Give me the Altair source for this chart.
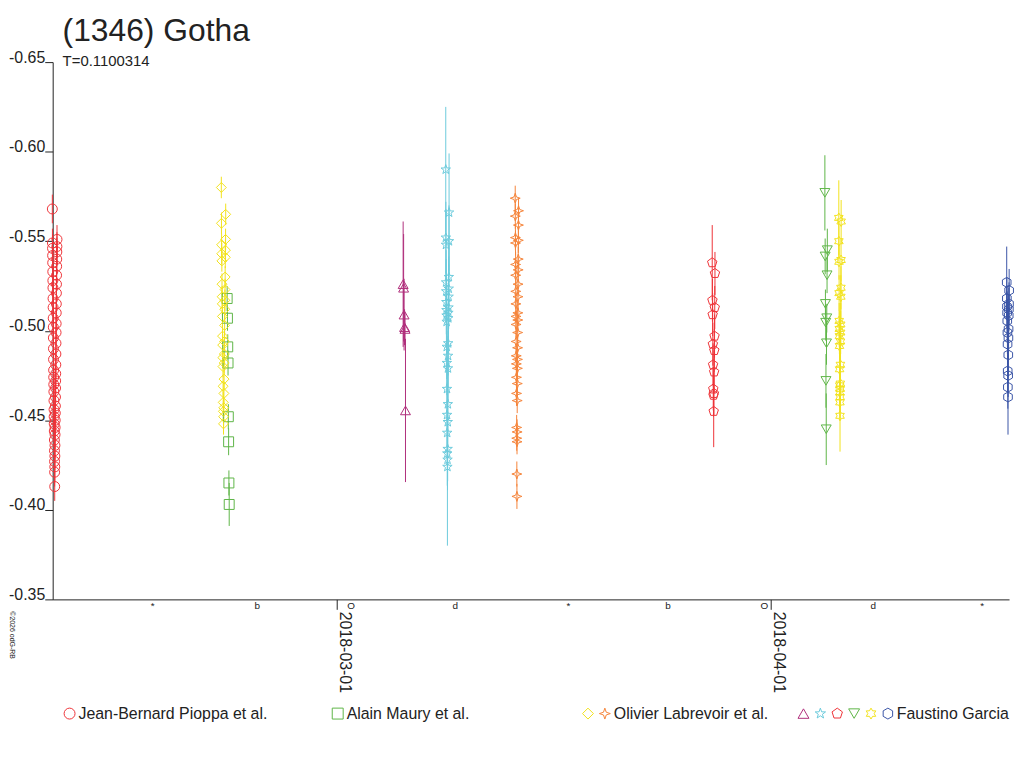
import altair as alt
import pandas as pd

# series keys (one per marker style), legend text and styles
series = ["JBP", "AM", "OL1", "OL2", "FG1", "FG2", "FG3", "FG4", "FG5", "FG6"]
nbsp = "\u00a0"
zw = "\u200b"
label_jbp = nbsp + "Jean-Bernard Pioppa et al." + nbsp * 14 + zw
label_am = nbsp + "Alain Maury et al." + nbsp * 25 + zw
label_ol = nbsp + "Olivier Labrevoir et al." + nbsp * 6 + zw
label_fg = nbsp + "Faustino Garcia"
colors = ["#ee3338", "#5fb548", "#f2e21c", "#f5843a", "#b02f7c",
          "#6ccbdc", "#ee3338", "#5fb548", "#f2e21c", "#3a55a6"]
star4 = "M0,-1L0.25,-0.25L1,0L0.25,0.25L0,1L-0.25,0.25L-1,0L-0.25,-0.25Z"
star5 = ("M0,-1L0.235,-0.324L0.951,-0.309L0.38,0.124L0.588,0.809L0,0.4"
         "L-0.588,0.809L-0.38,0.124L-0.951,-0.309L-0.235,-0.324Z")
pentagon = "M0,-1L0.951,-0.309L0.588,0.809L-0.588,0.809L-0.951,-0.309Z"
hexagram = ("M0,-1L0.289,-0.5L0.866,-0.5L0.577,0L0.866,0.5L0.289,0.5L0,1"
            "L-0.289,0.5L-0.866,0.5L-0.577,0L-0.866,-0.5L-0.289,-0.5Z")
hexagon = "M0,-1L0.866,-0.5L0.866,0.5L0,1L-0.866,0.5L-0.866,-0.5Z"
shapes = ["circle", "square", "diamond", star4, "triangle-up",
          star5, pentagon, "triangle-down", hexagram, hexagon]

# observing nights (start, end) and reduced magnitudes in time order
jbp_night = ["2018-02-08T17:00", "2018-02-09T01:00"]
jbp_mag = [-0.568, -0.549, -0.546, -0.542, -0.538, -0.533, -0.528, -0.524, -0.518, -0.513,
           -0.507, -0.502, -0.496, -0.490, -0.484, -0.478, -0.474, -0.470, -0.466, -0.461,
           -0.456, -0.452, -0.448, -0.444, -0.439, -0.433, -0.427, -0.421,
           -0.413, -0.424, -0.430, -0.436, -0.442, -0.446, -0.450, -0.454, -0.458, -0.463,
           -0.468, -0.472, -0.476, -0.481, -0.487, -0.493, -0.499, -0.504, -0.510, -0.515,
           -0.521, -0.526, -0.531, -0.536, -0.540, -0.544, -0.547, -0.551]
jbp_err = 0.008

am_night = ["2018-02-21T04:30", "2018-02-21T08:00"]
am_mag = [-0.518, -0.507, -0.491, -0.482, -0.452, -0.438, -0.415, -0.403]
am_err = [0.007, 0.007, 0.007, 0.007, 0.007, 0.0075, 0.007, 0.012]

ol1_night = ["2018-02-20T18:30", "2018-02-21T02:00"]
ol1_mag = [-0.580, -0.560, -0.548, -0.543, -0.539, -0.526, -0.519, -0.515, -0.508, -0.497,
           -0.492, -0.485, -0.480, -0.469, -0.460, -0.455, -0.448,
           -0.452, -0.457, -0.465, -0.473, -0.482, -0.487, -0.494, -0.503, -0.512,
           -0.517, -0.523, -0.530, -0.541, -0.545, -0.551, -0.565]
ol1_err = 0.006

ol2_night = ["2018-03-13T18:00", "2018-03-13T23:40"]
ol2_mag = [-0.574, -0.564, -0.552, -0.549, -0.537, -0.531, -0.522, -0.515, -0.508, -0.5035,
           -0.494, -0.486, -0.4815, -0.474, -0.465, -0.446, -0.440, -0.420,
           -0.4075, -0.438, -0.4435, -0.461, -0.4705, -0.479, -0.484, -0.4905, -0.499,
           -0.506, -0.510, -0.519, -0.526, -0.534, -0.540, -0.5505, -0.559, -0.567]
ol2_err = 0.007

fg1_night = ["2018-03-05T18:00", "2018-03-05T22:00"]
fg1_mag = [-0.526, -0.524, -0.509, -0.502, -0.501, -0.4555]
fg1_err = [0.035, 0.03, 0.02, 0.01, 0.009, 0.04]

fg2_night = ["2018-03-08T19:00", "2018-03-09T00:40"]
fg2_mag = [-0.590, -0.552, -0.548, -0.527, -0.522, -0.516, -0.5115, -0.5085, -0.505, -0.491,
           -0.482, -0.4675, -0.453, -0.443, -0.4315, -0.424,
           -0.428, -0.434, -0.449, -0.459, -0.479, -0.486, -0.493, -0.507, -0.510,
           -0.513, -0.519, -0.5235, -0.530, -0.550, -0.566]
fg2_err = [0.035, 0.02, 0.02, 0.018, 0.018, 0.018, 0.018, 0.018, 0.018, 0.018,
           0.018, 0.018, 0.018, 0.018, 0.018, 0.044,
           0.017, 0.018, 0.018, 0.018, 0.018, 0.018, 0.018, 0.018, 0.018,
           0.018, 0.018, 0.018, 0.018, 0.02, 0.033]

fg3_night = ["2018-03-27T19:30", "2018-03-28T00:10"]
fg3_mag = [-0.538, -0.517, -0.509, -0.4925, -0.481, -0.4675, -0.464,
           -0.455, -0.465, -0.477, -0.489, -0.497, -0.513, -0.532]
fg3_err = [0.021, 0.012, 0.012, 0.012, 0.012, 0.012, 0.012,
           0.02, 0.012, 0.012, 0.012, 0.012, 0.012, 0.012]

fg4_night = ["2018-04-04T20:30", "2018-04-05T00:40"]
fg4_mag = [-0.577, -0.5415, -0.515, -0.5045, -0.472, -0.445, -0.493, -0.507, -0.531, -0.545]
fg4_err = [0.021, 0.01, 0.008, 0.01, 0.015, 0.02, 0.012, 0.008, 0.01, 0.012]

fg5_night = ["2018-04-05T20:20", "2018-04-06T00:20"]
fg5_mag = [-0.563, -0.550, -0.5385, -0.521, -0.5055, -0.501, -0.497, -0.4915, -0.4785,
           -0.4695, -0.4655, -0.460,
           -0.4525, -0.463, -0.4675, -0.4705, -0.481, -0.494, -0.499, -0.5035, -0.519,
           -0.524, -0.5395, -0.561]
fg5_err = [0.021, 0.01, 0.01, 0.01, 0.01, 0.01, 0.01, 0.01, 0.01, 0.01, 0.01, 0.01,
           0.02, 0.012, 0.012, 0.012, 0.012, 0.012, 0.012, 0.012, 0.012, 0.012, 0.012, 0.012]

fg6_night = ["2018-04-17T20:00", "2018-04-18T00:10"]
fg6_mag = [-0.527, -0.518, -0.5135, -0.510, -0.5055, -0.499, -0.4925, -0.4775, -0.4685,
           -0.463, -0.475, -0.4865, -0.496, -0.501, -0.5085, -0.512, -0.515, -0.5225]
fg6_err = [0.02, 0.012, 0.012, 0.012, 0.012, 0.012, 0.012, 0.012, 0.012,
           0.021, 0.012, 0.012, 0.012, 0.012, 0.012, 0.012, 0.012, 0.012]

# moon phases shown under the time axis
moon_t = ["2018-02-15T21:05", "2018-02-23T08:09", "2018-03-02T00:51", "2018-03-09T11:20",
          "2018-03-17T13:12", "2018-03-24T15:35", "2018-03-31T12:37", "2018-04-08T07:17",
          "2018-04-16T01:57"]
moon_g = ["*", "b", "O", "d", "*", "b", "O", "d", "*"]

ink_of = dict(zip(series, colors))


def night(key, when, mag, err):
    times = pd.date_range(when[0], when[1], periods=len(mag))
    errs = err if isinstance(err, list) else [err] * len(mag)
    return pd.DataFrame({
        "series": key,
        "ink": ink_of[key],
        "t": times.strftime("%Y-%m-%dT%H:%M:%S"),
        "mag": mag,
        "lo": [m - e for m, e in zip(mag, errs)],
        "hi": [m + e for m, e in zip(mag, errs)],
    })


df = pd.concat([
    night("JBP", jbp_night, jbp_mag, jbp_err),
    night("AM", am_night, am_mag, am_err),
    night("OL1", ol1_night, ol1_mag, ol1_err),
    night("OL2", ol2_night, ol2_mag, ol2_err),
    night("FG1", fg1_night, fg1_mag, fg1_err),
    night("FG2", fg2_night, fg2_mag, fg2_err),
    night("FG3", fg3_night, fg3_mag, fg3_err),
    night("FG4", fg4_night, fg4_mag, fg4_err),
    night("FG5", fg5_night, fg5_mag, fg5_err),
    night("FG6", fg6_night, fg6_mag, fg6_err),
], ignore_index=True)

moon = pd.DataFrame({"t": [t + ":00" for t in moon_t], "g": moon_g})

W, H = 963, 541
FONT = "Liberation Sans"
INK = "#222222"

label_expr = (f"datum.value == 'JBP' ? '{label_jbp}' : "
              f"datum.value == 'AM' ? '{label_am}' : "
              f"datum.value == 'OL2' ? '{label_ol}' : "
              f"datum.value == 'FG6' ? '{label_fg}' : ''")

x_scale = alt.Scale(domain=[alt.DateTime(year=2018, month=2, date=8, hours=17, minutes=36),
                            alt.DateTime(year=2018, month=4, date=18, hours=0)])
x_axis = alt.Axis(values=[alt.DateTime(year=2018, month=3, date=1),
                          alt.DateTime(year=2018, month=4, date=1)],
                  format="%Y-%m-%d", labelAngle=90, labelAlign="left",
                  labelBaseline="bottom", tickSize=10, labelPadding=2,
                  title=None, grid=False, labelFlush=False)
y_scale = alt.Scale(domain=[-0.65, -0.35], reverse=True, nice=False, zero=False)
y_axis = alt.Axis(values=[-0.65, -0.6, -0.55, -0.5, -0.45, -0.4, -0.35],
                  labelExpr="'-' + format(abs(datum.value), '.2f')",
                  tickSize=8, labelPadding=0, labelBaseline="alphabetic",
                  title=None, grid=False, labelFlush=False, labelOverlap=False)

base = alt.Chart(df)

# error bars take their colour straight from the data, so they add no legend
bars = base.mark_rule(strokeWidth=1).encode(
    x=alt.X("t:T", scale=x_scale, axis=x_axis),
    y=alt.Y("lo:Q", scale=y_scale, axis=y_axis),
    y2="hi:Q",
    stroke=alt.Stroke("ink:N", scale=None),
)

points = base.mark_point(filled=False, strokeWidth=1, opacity=1, size=100).encode(
    x=alt.X("t:T", scale=x_scale, axis=x_axis),
    y=alt.Y("mag:Q", scale=y_scale, axis=y_axis),
    color=alt.Color("series:N", scale=alt.Scale(domain=series, range=colors),
                    legend=alt.Legend(
                        orient="none", legendX=9, legendY=648, direction="horizontal",
                        columns=10, title=None, labelExpr=label_expr,
                        labelFont=FONT, labelFontSize=16, labelColor=INK, labelLimit=600,
                        symbolSize=121, symbolStrokeWidth=1, columnPadding=0, labelOffset=1)),
    shape=alt.Shape("series:N", scale=alt.Scale(domain=series, range=shapes)),
)

phases = alt.Chart(moon).mark_text(fontSize=10, color=INK, baseline="middle").encode(
    x=alt.X("t:T", scale=x_scale, axis=x_axis),
    y=alt.value(H + 7),
    text="g:N",
)

stamp = alt.Chart(pd.DataFrame({"s": ["\u00a92026 odG-RB"]})).mark_text(
    angle=90, align="left", baseline="bottom", fontSize=7, color=INK
).encode(x=alt.value(-44), y=alt.value(H + 12), text="s:N")

chart = alt.layer(bars, points, phases, stamp).properties(
    width=W,
    height=H,
    padding={"left": 0, "top": 5, "right": 0, "bottom": 0},
    title=alt.TitleParams(
        "(1346) Gotha", subtitle="T=0.1100314", anchor="start", frame="group",
        dx=10, offset=-21, font=FONT, subtitleFont=FONT, fontSize=32,
        subtitleFontSize=15, fontWeight="normal", color=INK, subtitleColor=INK,
        subtitlePadding=6),
).configure_view(stroke=None).configure_axis(
    labelFont=FONT, labelFontSize=16, labelColor=INK,
    domainColor=INK, tickColor=INK, domainWidth=1, tickWidth=1,
).configure_text(font=FONT)

chart.save("out.html", embed_options={"renderer": "svg", "actions": False})
